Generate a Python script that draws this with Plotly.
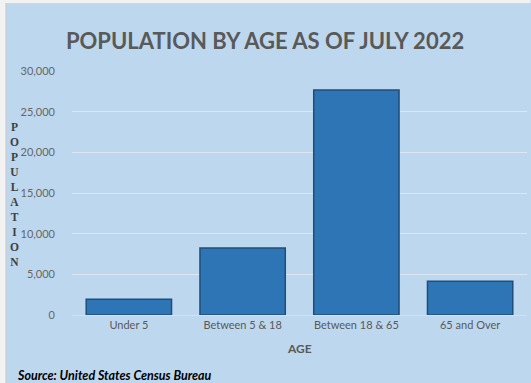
import plotly.graph_objects as go

categories = ["Under 5", "Between 5 & 18", "Between 18 & 65", "65 and Over"]
population = [1950, 8250, 27650, 4150]
y_ticks = [0, 5000, 10000, 15000, 20000, 25000, 30000]
y_tick_labels = ["0", "5,000", "10,000", "15,000", "20,000", "25,000", "30,000"]

W, H = 531, 383
L, R, T, B = 71.5, 3.5, 71, 68
pw, ph = W - L - R, H - T - B

def px(x):
    return (x - L) / pw

def py(y):
    return 1 - (y - T) / ph

fig = go.Figure()
fig.add_trace(go.Bar(
    x=categories, y=population,
    marker=dict(color="#2E75B6", line=dict(color="#1F4E79", width=1.5)),
    width=0.75,
))

fig.update_layout(
    width=W, height=H,
    margin=dict(l=L, r=R, t=T, b=B),
    paper_bgcolor="#BDD7EE",
    plot_bgcolor="#BDD7EE",
    showlegend=False,
    bargap=0.25,
    font=dict(family="Lato, Open Sans, sans-serif", color="#595959"),
    xaxis=dict(
        tickfont=dict(size=11, color="#595959", family="Lato"),
        showgrid=False, showline=True, linecolor="#D4E2EF", linewidth=1,
        ticks="",
    ),
    yaxis=dict(
        range=[0, 30000],
        tickvals=y_ticks, ticktext=y_tick_labels,
        tickfont=dict(size=11, color="#666666", family="Lato"),
        showgrid=True, gridcolor="#DCE7F2", gridwidth=1.3,
        zeroline=False, ticks="", ticklabelstandoff=16,
    ),
    title=dict(
        text="<b>POPULATION BY AGE AS OF JULY 2022</b>",
        x=px(265), xanchor="center", xref="paper",
        y=1 - 41 / H, yanchor="middle",
        font=dict(size=22, color="#595959", family="Lato"),
    ),
)

# frame strips at top and left
fig.add_shape(type="rect", xref="paper", yref="paper",
              x0=px(0), x1=px(W), y0=py(3), y1=py(-1),
              fillcolor="#F2F2F2", line=dict(width=0), layer="above")
fig.add_shape(type="rect", xref="paper", yref="paper",
              x0=px(-1), x1=px(5), y0=py(H + 1), y1=py(0),
              fillcolor="#F2F2F2", line=dict(width=0), layer="above")
fig.add_shape(type="line", xref="paper", yref="paper",
              x0=px(5.5), x1=px(5.5), y0=py(H + 1), y1=py(3),
              line=dict(color="#C8CCD0", width=1), layer="above")
fig.add_shape(type="line", xref="paper", yref="paper",
              x0=px(5), x1=px(W), y0=py(3.5), y1=py(3.5),
              line=dict(color="#D0D4D8", width=1), layer="above")

fig.add_annotation(
    text="<b>" + "<br>".join(list("POPULATION")) + "</b>",
    xref="paper", yref="paper", x=px(14), y=py(194),
    xanchor="center", yanchor="middle", showarrow=False,
    font=dict(size=11.5, color="#404040", family="Liberation Serif"),
    align="center",
)
fig.add_annotation(
    text="<b>AGE</b>", xref="paper", yref="paper",
    x=px(300), y=py(348), xanchor="center", yanchor="middle",
    showarrow=False, font=dict(size=12, color="#595959", family="Lato"),
)
fig.add_annotation(
    text="<b><i>Source: United States Census Bureau</i></b>", xref="paper", yref="paper",
    x=px(14), y=py(375), xanchor="left", yanchor="middle",
    showarrow=False, font=dict(size=12.5, color="#000000", family="Lato"),
)

fig.write_html(
    "out.html",
    config={"displayModeBar": False},
    post_script="document.body.style.margin='0';document.body.style.overflow='hidden';",
)
